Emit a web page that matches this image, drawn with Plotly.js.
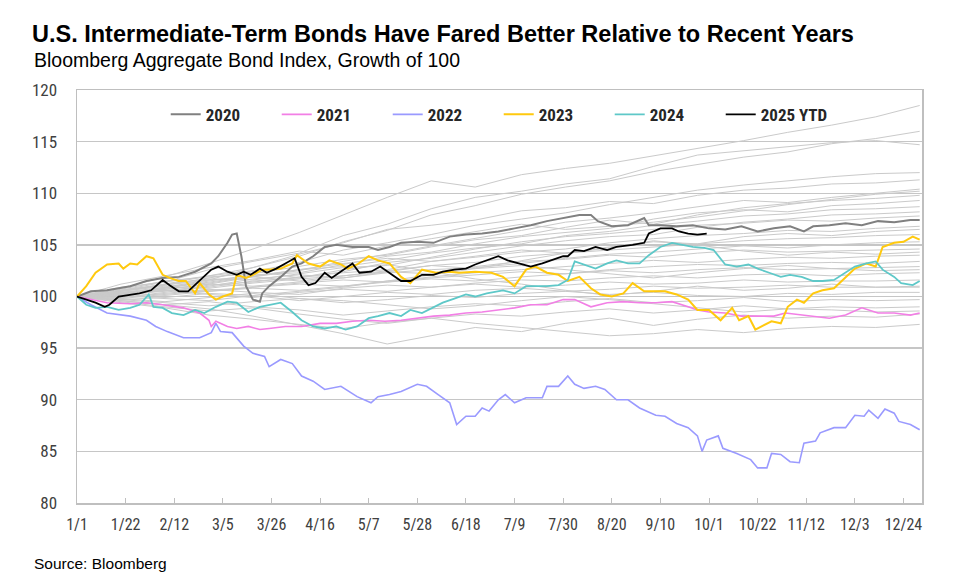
<!DOCTYPE html>
<html>
<head>
<meta charset="utf-8">
<script src="https://cdn.plot.ly/plotly-3.0.1.min.js"></script>
<style>html,body{margin:0;padding:0;background:#fff;}#chart{width:965px;height:581px;}</style>
</head>
<body>
<div id="chart"></div>
<script>
// ---------- tick labels ----------
const tickDays = [0,21,42,63,84,105,126,147,168,189,210,231,252,273,294,315,336,357];
const tickLabels = ["1/1","1/22","2/12","3/5","3/26","4/16","5/7","5/28","6/18","7/9","7/30","8/20","9/10","10/1","10/22","11/12","12/3","12/24"];

// ---------- highlighted years (day of year, growth of 100) ----------
const days2020 = [0,6,13,23,30,37,44,51,58,61,65,67,69,71,73,76,79,80,83,88,93,97,102,107,112,119,126,130,135,140,147,154,161,168,175,182,189,196,203,210,217,222,225,231,238,245,247,252,259,266,273,280,287,294,301,308,314,318,325,332,339,346,353,360,364];
const vals2020 = [100,100.5,100.6,101.0,101.5,101.8,101.9,102.4,103.2,103.9,105.2,106.0,106.1,103.9,101.0,99.7,99.5,100.3,101.0,101.9,102.9,103.2,103.9,104.8,105.0,104.8,104.8,104.5,104.8,105.2,105.3,105.2,105.8,106.0,106.1,106.3,106.6,106.9,107.3,107.6,107.9,107.9,107.3,106.8,106.9,107.6,106.9,106.9,106.8,106.9,106.6,106.5,106.8,106.3,106.6,106.8,106.3,106.8,106.9,107.1,106.9,107.3,107.2,107.4,107.4];

const days2021 = [0,6,13,23,30,37,46,53,57,58,60,65,69,74,79,83,90,97,105,112,119,126,133,140,147,154,161,168,175,182,189,196,203,210,215,222,229,236,243,250,257,264,268,273,280,287,294,301,306,313,318,325,332,339,346,353,360,364];
const vals2021 = [100,99.7,99.4,99.3,99.4,99.2,98.9,98.4,97.7,97.1,97.6,97.1,96.9,97.1,96.8,96.9,97.1,97.1,97.4,97.4,97.6,97.7,97.6,97.7,97.9,98.1,98.2,98.4,98.5,98.7,98.9,99.2,99.2,99.7,99.7,99.0,99.4,99.5,99.4,99.4,99.5,99.0,98.7,98.5,98.4,98.1,98.1,98.1,98.4,98.2,98.1,97.9,98.2,98.9,98.4,98.4,98.2,98.4];

const days2022 = [0,6,13,23,30,34,39,46,53,58,60,62,67,72,76,81,83,88,93,97,102,107,114,121,127,130,135,140,147,151,156,161,164,168,172,175,178,182,185,189,194,201,203,208,212,215,219,224,228,233,238,243,250,254,259,264,268,270,272,277,279,285,291,294,298,300,304,308,312,314,319,321,327,332,336,340,342,346,349,353,355,360,364];
const vals2022 = [100,99.2,98.4,98.1,97.7,97.1,96.6,96.0,96.0,96.5,97.4,96.6,96.5,95.2,94.5,94.2,93.2,93.9,93.5,92.3,91.8,91.0,91.3,90.3,89.7,90.3,90.5,90.8,91.5,91.3,90.5,89.7,87.6,88.4,88.4,89.2,88.9,90.0,90.5,89.7,90.2,90.2,91.3,91.3,92.3,91.5,91.1,91.3,91.0,90.0,90.0,89.2,88.5,88.4,87.7,87.3,86.5,85.0,86.1,86.5,85.3,84.8,84.2,83.4,83.4,84.8,84.7,84.0,83.9,85.8,86.0,86.8,87.3,87.3,88.5,88.4,89.0,88.2,89.1,88.7,87.9,87.6,87.1];

const days2023 = [0,4,8,13,18,20,23,26,30,33,37,40,44,47,51,53,57,60,63,67,69,73,76,80,83,88,93,95,100,105,109,114,117,121,126,130,135,140,144,149,155,161,165,172,179,184,189,194,198,203,208,212,217,222,226,231,236,240,245,250,254,259,264,268,273,278,283,286,290,293,297,300,304,307,311,314,318,322,327,332,336,341,345,348,353,357,361,364];
const vals2023 = [100,101,102.3,103.1,103.2,102.7,103.2,103.1,103.9,103.7,102.1,101.8,101.5,101.5,100.3,101.3,100.2,99.7,100,100.3,102.1,101.8,102.1,102.6,102.6,102.7,103.2,104.0,103.2,102.9,103.5,103.1,102.7,103.1,103.9,103.5,103.2,101.9,101.3,102.6,102.3,102.4,102.3,102.4,102.3,101.9,101.0,102.6,102.9,102.3,102.1,101.5,101.9,100.8,100.2,100,100.3,101.3,100.5,100.5,100.5,100.2,99.7,98.7,98.7,97.7,98.9,97.7,98.1,96.8,97.3,97.6,97.4,99.0,99.7,99.4,100.3,100.6,100.8,101.9,102.7,103.2,102.9,104.8,105.2,105.3,105.8,105.5];

const days2024 = [0,4,8,13,18,23,27,31,33,37,41,46,51,55,60,65,69,74,79,83,88,93,97,102,107,112,116,121,126,130,135,140,144,149,154,158,163,168,172,177,184,189,194,198,203,208,212,215,219,224,229,233,238,243,247,252,257,261,266,271,275,280,285,290,294,299,304,308,313,318,322,327,332,336,341,345,348,353,356,361,364];
const vals2024 = [100,99.2,98.9,99.0,98.7,98.9,99.2,100.2,99.0,98.9,98.4,98.2,98.7,98.4,99.0,99.5,99.4,98.5,99.0,99.2,99.4,98.5,97.7,97.1,96.9,97.1,96.8,97.1,97.9,98.1,98.4,98.1,98.7,98.4,99.0,99.4,99.8,100.2,100,100.3,100.6,100.3,101.0,101.0,101.0,101.1,101.6,103.4,103.1,102.7,103.2,103.5,103.2,103.2,104.0,104.8,105.2,105.0,104.8,104.7,104.5,103.1,102.9,103.1,102.7,102.3,101.9,102.1,101.9,101.5,101.5,101.6,102.3,102.9,103.2,103.4,102.6,101.9,101.3,101.1,101.5];

const days2025 = [0,4,8,12,14,18,23,27,32,37,40,44,48,53,58,61,65,69,72,75,79,82,86,90,94,97,100,103,107,110,114,119,122,127,131,136,140,144,149,154,158,163,168,172,177,182,186,191,196,201,205,210,212,215,219,224,229,233,240,245,247,252,257,260,264,268,272];
const vals2025 = [100,99.7,99.4,99.0,99.2,100,100.2,100.3,100.6,101.6,101.1,100.5,100.5,101.6,102.6,102.9,102.4,102.1,102.4,102.1,102.7,102.3,102.7,103.2,103.7,101.9,101.1,101.3,102.3,101.8,102.4,103.2,102.3,102.4,102.9,102.1,101.5,101.5,102.1,102.1,102.4,102.6,102.7,103.1,103.5,103.9,103.5,103.2,102.9,103.2,103.5,103.9,103.9,104.5,104.4,104.8,104.5,104.8,105.0,105.2,106.1,106.6,106.6,106.3,106.1,106.0,106.1];

// ---------- earlier years (grey background lines) ----------
const greyDays = [0,19,38,57,76,96,115,134,153,172,192,211,230,249,268,288,307,326,345,364];
const grey01 = [100,100.8,101.9,103.2,104.6,106.2,107.9,109.6,111.2,110.6,111.8,112.4,112.9,113.6,114.3,115.1,115.9,116.6,117.4,118.5];
const grey02 = [100,100.5,101.2,102.0,102.8,103.9,105.3,106.4,107.9,108.8,109.9,110.6,111.2,112.1,112.8,113.5,114.0,114.8,115.3,116.0];
const grey03 = [100,100.9,101.4,102.6,103.4,104.2,105.9,107.0,108.5,109.6,110.2,110.9,111.4,112.6,113.7,114.1,114.5,114.9,115.1,114.7];
const grey04 = [100,100.6,101.1,101.8,102.4,103.3,104.5,105.2,106.0,106.9,107.5,108.1,108.9,109.6,110.3,110.8,111.2,111.6,111.9,112.0];
const grey05 = [100,100.2,100.9,101.6,102.8,104.1,105.2,106.5,106.9,107.4,108.3,108.6,109.2,109.0,109.8,110.3,110.5,110.9,111.0,111.3];
const grey06 = [100,100.4,100.7,101.2,101.9,102.5,103.4,104.1,104.9,105.6,106.4,107.2,107.6,108.1,108.7,109.3,109.1,109.6,110.0,110.4];
const grey07 = [100,100.7,101.5,101.9,102.2,102.9,103.6,104.0,104.8,105.5,105.9,106.7,107.4,107.0,107.9,108.6,109.0,109.3,109.5,109.8];
const grey08 = [100,100.3,100.8,101.5,102.1,102.3,103.1,103.9,104.3,105.1,105.8,106.2,106.6,107.5,108.1,108.4,108.2,108.8,109.0,109.3];
const grey09 = [100,100.5,101.0,101.3,101.9,102.6,102.9,103.5,104.2,104.7,105.1,105.9,106.3,106.9,107.3,107.8,108.0,108.4,108.5,108.7];
const grey10 = [100,100.1,100.6,100.9,101.5,101.8,102.4,103.3,103.7,104.3,104.9,105.4,105.8,106.0,106.7,107.2,107.5,107.9,108.0,108.2];
const grey11 = [100,100.6,101.2,101.7,101.6,102.2,102.8,103.0,103.8,104.6,105.3,105.8,106.1,106.5,106.9,107.1,107.4,107.3,107.6,107.8];
const grey12 = [100,100.2,100.5,101.1,101.4,101.9,102.3,102.6,103.4,103.8,104.3,104.6,105.2,105.6,105.9,106.1,106.4,106.3,106.6,106.8];
const grey13 = [100,100.4,100.9,100.8,101.3,101.7,102.0,102.5,103.0,103.3,103.9,104.2,104.5,104.8,105.1,105.4,105.6,105.7,105.9,106.0];
const grey14 = [100,100.3,100.7,101.2,101.0,101.4,101.8,102.3,102.6,102.8,103.2,103.7,104.1,104.3,104.6,104.9,104.7,105.0,105.2,105.3];
const grey15 = [100,100.5,101.1,101.6,101.9,101.5,102.0,102.4,102.2,102.9,103.4,103.6,104.0,103.8,104.2,104.5,104.3,104.4,104.5,104.6];
const grey16 = [100,99.8,100.2,100.6,100.9,101.3,101.6,101.4,101.9,102.3,102.6,102.9,103.2,103.5,103.3,103.6,103.8,103.7,103.9,104.0];
const grey17 = [100,100.2,100.6,100.5,100.9,101.2,101.0,101.5,101.8,102.1,102.4,102.2,102.6,102.9,103.1,103.0,103.2,103.3,103.2,103.4];
const grey18 = [100,100.4,100.1,100.5,100.8,100.6,101.0,101.4,101.7,101.5,101.9,102.2,102.5,102.3,102.6,102.8,102.6,102.7,102.8,102.9];
const grey19 = [100,99.9,100.3,100.7,100.4,100.2,100.8,101.1,100.9,101.3,101.6,101.5,101.8,102.0,101.8,102.1,102.2,102.0,102.2,102.3];
const grey20 = [100,100.3,100.6,100.2,99.9,100.4,100.7,100.5,100.9,101.2,100.9,101.1,101.4,101.2,101.3,101.6,101.4,101.5,101.5,101.6];
const grey21 = [100,99.7,99.9,100.3,100.1,99.6,100.0,100.4,100.2,100.6,100.8,100.5,100.7,101.0,100.8,100.9,101.1,100.9,100.9,101.0];
const grey22 = [100,99.8,99.5,99.9,100.3,99.8,99.4,99.7,100.1,99.9,100.3,100.5,100.2,100.4,100.1,100.0,100.3,100.2,100.4,100.4];
const grey23 = [100,99.6,99.2,99.5,99.0,98.7,98.2,98.6,99.0,99.3,99.1,99.5,99.8,99.4,99.6,99.9,99.5,99.7,99.6,99.7];
const grey24 = [100,99.5,99.0,98.6,98.9,98.3,97.8,97.4,97.9,98.3,98.1,98.5,98.8,98.4,98.7,99.1,98.8,99.0,98.9,99.0];
const grey25 = [100,99.6,99.2,98.8,98.1,97.2,96.4,95.4,96.2,97.0,96.6,97.4,97.9,97.2,97.8,98.2,97.9,98.1,98.0,98.3];
const grey26 = [100,99.4,98.9,98.2,97.8,97.3,96.9,97.5,97.9,97.4,97.0,96.6,96.2,96.4,96.8,96.5,96.9,97.1,97.0,97.3];
const grey27 = [100,100.6,101.4,102.0,102.5,101.8,102.6,103.1,102.4,101.7,101.2,100.6,100.1,100.5,101.0,100.6,100.8,101.2,100.9,100.9];
const grey28 = [100,101.2,102.0,102.8,103.5,104.4,104.0,104.9,105.6,106.3,107.0,106.5,106.8,107.2,107.7,108.3,108.9,109.4,109.9,110.2];
const grey29 = [100,100.2,100.8,101.4,102.0,102.6,103.2,103.7,103.4,103.9,104.5,104.2,104.7,105.4,105.0,104.4,104.0,104.3,104.1,104.3];
const grey30 = [100,99.9,100.4,101.0,101.7,102.1,101.8,102.4,103.0,102.7,103.5,104.2,104.8,105.3,105.1,105.8,106.1,105.9,106.3,106.5];
const grey31 = [100,100.1,99.8,99.6,100.1,100.5,100.9,101.5,102.1,102.7,103.0,102.6,102.2,101.8,102.3,102.7,103.0,102.7,102.5,102.6];
const grey32 = [100,99.7,99.4,99.1,99.5,99.8,99.6,99.2,98.8,99.1,99.6,100.0,99.7,99.3,98.9,98.5,98.8,98.7,98.5,98.6];

const greySeries = [grey01,grey02,grey03,grey04,grey05,grey06,grey07,grey08,grey09,grey10,grey11,grey12,grey13,grey14,grey15,grey16,grey17,grey18,grey19,grey20,grey21,grey22,grey23,grey24,grey25,grey26,grey27,grey28,grey29,grey30,grey31,grey32];

// ---------- traces ----------
const NARROW = '"Liberation Sans Narrow", "Arial Narrow", "Roboto Condensed", "Liberation Sans", Arial, sans-serif';
const SANS = '"Liberation Sans", Arial, "DejaVu Sans", sans-serif';

const traces = [];
greySeries.forEach(function (s) {
  traces.push({x: greyDays, y: s, type: 'scatter', mode: 'lines', showlegend: false,
    hoverinfo: 'skip', line: {color: '#cacaca', width: 1}});
});

const highlights = [
  {name: '2020', x: days2020, y: vals2020, color: '#808080', width: 2},
  {name: '2021', x: days2021, y: vals2021, color: '#f27fe5', width: 1.6},
  {name: '2022', x: days2022, y: vals2022, color: '#9a9aff', width: 1.6},
  {name: '2023', x: days2023, y: vals2023, color: '#ffc90e', width: 2},
  {name: '2024', x: days2024, y: vals2024, color: '#5ec8c8', width: 1.8},
  {name: '2025 YTD', x: days2025, y: vals2025, color: '#000000', width: 1.8}
];
highlights.forEach(function (h) {
  traces.push({x: h.x, y: h.y, name: h.name, type: 'scatter', mode: 'lines',
    line: {color: h.color, width: h.width}});
});

const layout = {
  width: 965, height: 581,
  margin: {l: 77, r: 43, t: 90, b: 78},
  paper_bgcolor: '#ffffff', plot_bgcolor: '#ffffff',
  title: {
    text: '<b>U.S. Intermediate-Term Bonds Have Fared Better Relative to Recent Years</b>',
    font: {family: SANS, size: 23.5, color: '#000000'},
    x: 32 / 965, xref: 'container', xanchor: 'left',
    y: 1 - 34 / 581, yref: 'container', yanchor: 'middle'
  },
  xaxis: {
    range: [0, 365], tickmode: 'array', tickvals: tickDays, ticktext: tickLabels,
    ticks: 'inside', ticklen: 5, tickcolor: '#bfbfbf', tickwidth: 1,
    showline: true, linecolor: '#bfbfbf', linewidth: 1.5, mirror: true,
    showgrid: false, zeroline: false,
    tickfont: {family: NARROW, size: 16, color: '#404040'},
    ticklabelstandoff: 6
  },
  yaxis: {
    range: [80, 120], tickmode: 'linear', tick0: 80, dtick: 5,
    showgrid: true, gridcolor: '#c6c6c6', gridwidth: 1.3,
    showline: true, linecolor: '#bfbfbf', linewidth: 1.5, mirror: true,
    ticks: '', zeroline: false,
    tickfont: {family: NARROW, size: 17, color: '#404040'},
    ticklabelstandoff: 15
  },
  legend: {
    orientation: 'h', x: 0.105, xanchor: 'left', y: 0.94, yanchor: 'middle',
    bgcolor: 'rgba(0,0,0,0)', borderwidth: 0,
    font: {family: NARROW, size: 17, color: '#262626', weight: 700},
    entrywidth: 66, entrywidthmode: 'pixels', itemwidth: 30
  },
  annotations: [
    {text: 'Bloomberg Aggregate Bond Index, Growth of 100', xref: 'paper', yref: 'paper',
     x: (32 - 77) / 845, xanchor: 'left', y: (503 - 60) / 413, yanchor: 'middle',
     showarrow: false, font: {family: SANS, size: 19.5, color: '#000000'}},
    {text: 'Source: Bloomberg', xref: 'paper', yref: 'paper',
     x: (32 - 77) / 845, xanchor: 'left', y: (503 - 563) / 413, yanchor: 'middle',
     showarrow: false, font: {family: SANS, size: 15.5, color: '#000000'}}
  ],
  hovermode: false
};

Plotly.newPlot('chart', traces, layout, {displayModeBar: false, staticPlot: true});
</script>
</body>
</html>
